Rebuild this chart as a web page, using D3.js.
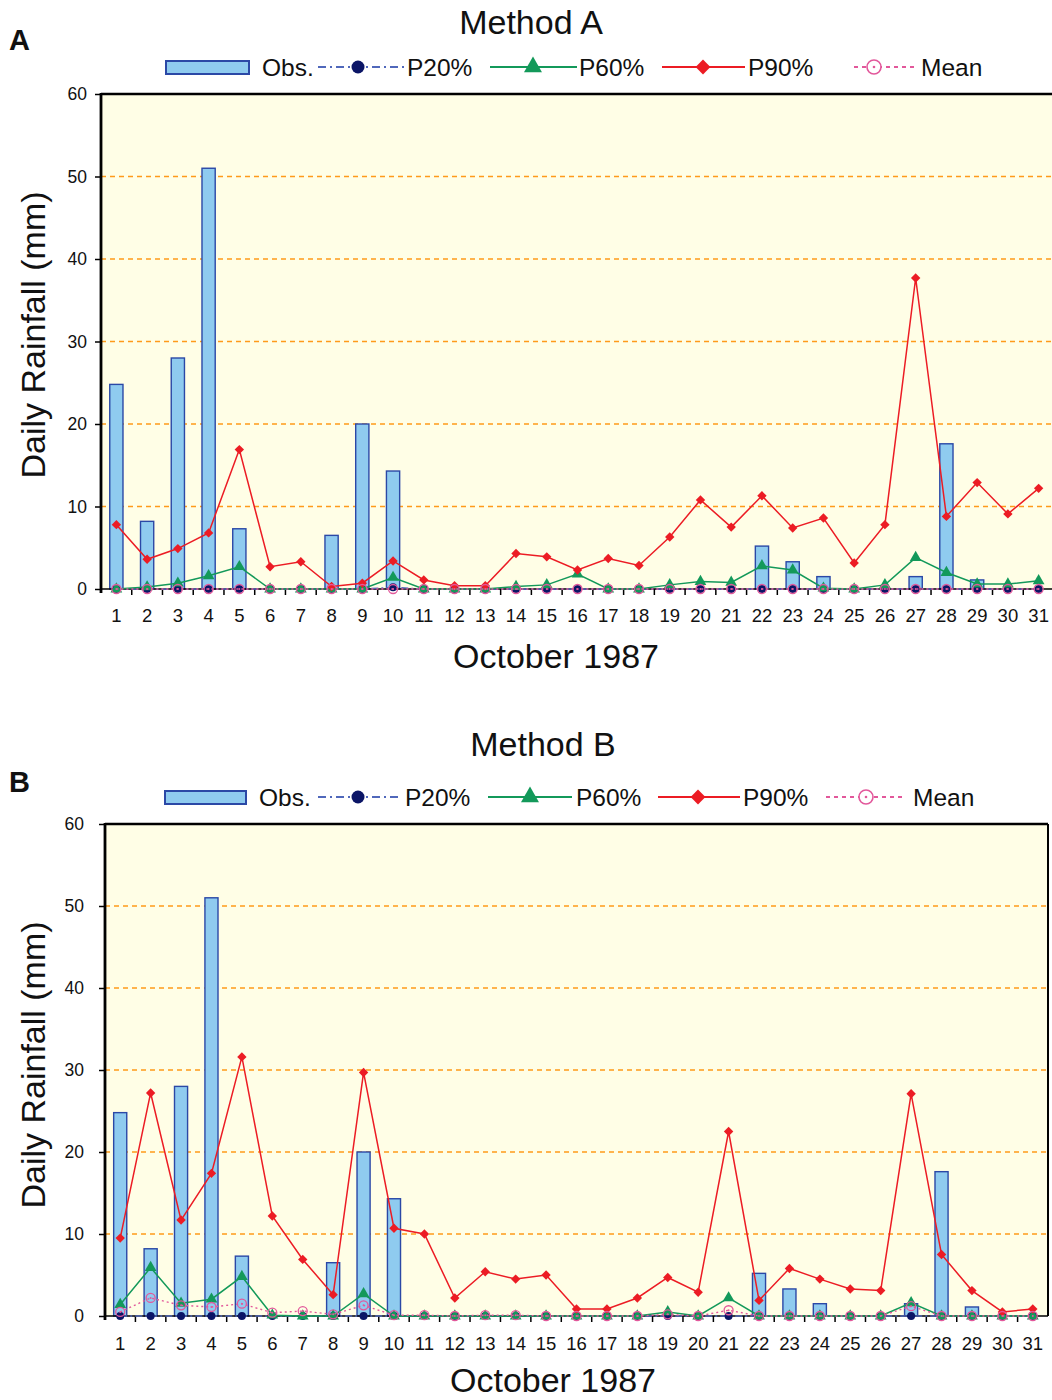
<!DOCTYPE html>
<html>
<head>
<meta charset="utf-8">
<script src="https://cdn.jsdelivr.net/npm/d3@7"></script>
<style>
  html, body { margin: 0; padding: 0; background: #ffffff; }
  svg { display: block; font-family: "Liberation Sans", Arial, sans-serif; }
</style>
</head>
<body>
<svg id="chart" width="1052" height="1400"></svg>
<script>
// ---------------- DATA ----------------
const dayLabels = ["1","2","3","4","5","6","7","8","9","10","11","12","13","14","15","16",
                   "17","18","19","20","21","22","23","24","25","26","27","28","29","30","31"];
const yTicks = [0, 10, 20, 30, 40, 50, 60];
const seriesNames = ["Obs.", "P20%", "P60%", "P90%", "Mean"];

// Observed daily rainfall (same for both methods)
const obs = [24.8, 8.2, 28.0, 51.0, 7.3, 0, 0, 6.5, 20.0, 14.3, 0, 0, 0, 0, 0, 0,
             0, 0, 0, 0, 0, 5.2, 3.3, 1.5, 0, 0, 1.5, 17.6, 1.1, 0, 0];

// Method A
const aP20 = [0, 0, 0, 0, 0, 0, 0, 0, 0, 0.2, 0, 0, 0, 0, 0, 0,
              0, 0, 0, 0, 0, 0, 0, 0, 0, 0, 0, 0, 0, 0, 0];
const aP60 = [0, 0.25, 0.7, 1.6, 2.7, 0, 0, 0, 0, 1.4, 0, 0, 0, 0.3, 0.5, 1.8,
              0, 0, 0.5, 0.9, 0.8, 2.8, 2.3, 0.1, 0, 0.5, 3.8, 2.0, 0.6, 0.6, 1.0];
const aP90 = [7.8, 3.6, 4.9, 6.8, 16.9, 2.7, 3.3, 0.3, 0.7, 3.4, 1.1, 0.4, 0.4, 4.3, 3.9, 2.3,
              3.7, 2.85, 6.3, 10.8, 7.5, 11.3, 7.4, 8.6, 3.15, 7.8, 37.7, 8.8, 12.9, 9.1, 12.2];
const aMean = [0, 0, 0, 0, 0, 0, 0, 0, 0, 0, 0, 0, 0, 0, 0, 0,
               0, 0, 0, 0, 0, 0, 0, 0, 0, 0, 0, 0, 0, 0, 0];

// Method B
const bP20 = [0, 0, 0, 0, 0, 0, 0, 0, 0, 0, 0, 0, 0, 0, 0, 0,
              0, 0, 0, 0, 0, 0, 0, 0, 0, 0, 0, 0, 0, 0, 0];
const bP60 = [1.4, 5.9, 1.55, 2.05, 4.8, 0.1, 0, 0, 2.7, 0, 0, 0, 0, 0, 0, 0,
              0, 0, 0.5, 0, 2.2, 0, 0, 0, 0, 0, 1.6, 0, 0, 0, 0];
const bP90 = [9.5, 27.2, 11.7, 17.4, 31.6, 12.2, 6.9, 2.6, 29.7, 10.7, 10.0, 2.2, 5.4, 4.5, 5.0, 0.85,
              0.85, 2.2, 4.7, 2.9, 22.5, 1.9, 5.8, 4.5, 3.3, 3.1, 27.1, 7.5, 3.1, 0.5, 0.85];
const bMean = [0.5, 2.2, 1.3, 1.1, 1.5, 0.4, 0.6, 0.2, 1.3, 0.1, 0.1, 0, 0.1, 0.1, 0, 0,
               0, 0, 0.2, 0, 0.7, 0, 0, 0, 0, 0, 1.2, 0, 0, 0, 0];

// ---------------- STYLES ----------------
const C = {
  barFill: "#8fcbef", barStroke: "#2b48a6",
  p20Line: "#5068bb", p20Mark: "#0b1566",
  p60: "#13995a", p90: "#ec1c24", mean: "#e2589b",
  bg: "#fffee6", grid: "#ff9a1a"
};

const svg = d3.select("#chart");

const panels = [
  { letter: "A", title: "Method A", p20: aP20, p60: aP60, p90: aP90, mean: aMean,
    left: 101, right: 1054, top: 94, bottom: 589, rightBorder: false,
    titleY: 34, letterY: 50, legendY: 67, yLabX: 87, xLabY: 622, xTitleY: 668, xTitleX: 556, titleX: 531, yTitleX: 45, yTitleY: 335,
    leg: { rect: [166, 249], obsT: 262, p20: [318, 405, 358, 407], p60: [490, 577, 533, 579], p90: [662, 745, 703, 748], mean: [854, 914, 874, 921] } },
  { letter: "B", title: "Method B", p20: bP20, p60: bP60, p90: bP90, mean: bMean,
    left: 105, right: 1048, top: 824, bottom: 1316, rightBorder: true,
    titleY: 756, letterY: 792, legendY: 797, yLabX: 84, xLabY: 1350, xTitleY: 1392, xTitleX: 553, titleX: 543, yTitleX: 45, yTitleY: 1065,
    leg: { rect: [165, 246], obsT: 259, p20: [318, 400, 358, 405], p60: [488, 572, 530, 576], p90: [658, 740, 698, 743], mean: [826, 905, 866, 913] } }
];

const triangle = d3.symbol().type(d3.symbolTriangle).size(60);
const diamond = d3.symbol().type(d3.symbolSquare).size(44);

function drawMarker(g, type, cx, cy) {
  if (type === "p20") {
    g.append("circle").attr("cx", cx).attr("cy", cy).attr("r", 4).attr("fill", C.p20Mark);
  } else if (type === "p60") {
    g.append("path").attr("d", triangle()).attr("transform", `translate(${cx},${cy})`).attr("fill", C.p60);
  } else if (type === "p90") {
    g.append("path").attr("d", diamond()).attr("transform", `translate(${cx},${cy}) rotate(45)`).attr("fill", C.p90);
  } else if (type === "mean") {
    g.append("circle").attr("cx", cx).attr("cy", cy).attr("r", 4.5).attr("fill", "none").attr("stroke", C.mean).attr("stroke-width", 1.3);
    g.append("circle").attr("cx", cx).attr("cy", cy).attr("r", 1).attr("fill", C.mean);
  }
}

const lineStyles = {
  p20: { stroke: C.p20Line, dash: "7,3,2,3", width: 1.4 },
  p60: { stroke: C.p60, dash: null, width: 1.5 },
  p90: { stroke: C.p90, dash: null, width: 1.5 },
  mean: { stroke: C.mean, dash: "2,3", width: 1.4 }
};

panels.forEach(P => {
  const g = svg.append("g");
  const x = d3.scaleBand().domain(dayLabels).range([P.left, P.right]).paddingInner(0).paddingOuter(0);
  const y = d3.scaleLinear().domain([0, 60]).range([P.bottom, P.top]);
  const bw = x.bandwidth();
  const cx = d => x(d) + bw / 2;

  // Titles
  g.append("text").attr("x", P.titleX).attr("y", P.titleY).attr("text-anchor", "middle")
    .attr("font-size", 34).attr("fill", "#111").text(P.title);
  g.append("text").attr("x", 9).attr("y", P.letterY).attr("font-size", 29).attr("font-weight", "bold")
    .attr("fill", "#111").text(P.letter);

  // Plot background
  g.append("rect").attr("x", P.left).attr("y", P.top).attr("width", P.right - P.left).attr("height", P.bottom - P.top)
    .attr("fill", C.bg);

  // Gridlines
  g.selectAll(".grid").data(yTicks.filter(t => t > 0 && t < 60)).enter().append("line")
    .attr("x1", P.left).attr("x2", P.right).attr("y1", d => y(d)).attr("y2", d => y(d))
    .attr("stroke", C.grid).attr("stroke-width", 1.6).attr("stroke-dasharray", "5,4");

  // Bars
  const barW = bw * 0.43;
  g.selectAll(".bar").data(obs.map((v, i) => ({ d: dayLabels[i], v }))).enter()
    .filter(o => o.v > 0).append("rect")
    .attr("x", o => cx(o.d) - barW / 2).attr("y", o => y(o.v))
    .attr("width", barW).attr("height", o => y(0) - y(o.v))
    .attr("fill", C.barFill).attr("stroke", C.barStroke).attr("stroke-width", 1.4);

  // Borders
  g.append("line").attr("x1", P.left).attr("x2", P.right).attr("y1", P.top).attr("y2", P.top)
    .attr("stroke", "#000").attr("stroke-width", 2.5);
  if (P.rightBorder) {
    g.append("line").attr("x1", P.right).attr("x2", P.right).attr("y1", P.top).attr("y2", P.bottom)
      .attr("stroke", "#000").attr("stroke-width", 2);
  }

  // X axis line and between-category ticks
  g.append("line").attr("x1", P.left).attr("x2", P.right).attr("y1", P.bottom).attr("y2", P.bottom)
    .attr("stroke", "#000").attr("stroke-width", 1.6);
  g.selectAll(".xt").data(dayLabels.slice(1)).enter().append("line")
    .attr("x1", d => x(d)).attr("x2", d => x(d)).attr("y1", P.bottom).attr("y2", P.bottom + 6)
    .attr("stroke", "#000").attr("stroke-width", 1.5);

  // X labels via axis
  const xAxis = d3.axisBottom(x).tickSize(0).tickPadding(0);
  const xg = g.append("g").attr("transform", `translate(0,${P.xLabY - 14})`).call(xAxis);
  xg.select(".domain").remove();
  xg.selectAll("text").attr("font-size", 18.5).attr("fill", "#111").attr("dy", 0).attr("y", 14)
    .style("font-family", "'Liberation Sans', Arial, sans-serif");

  // Y axis
  const yAxis = d3.axisLeft(y).tickValues(yTicks).tickSize(6).tickPadding(P.left - P.yLabX - 6);
  const yg = g.append("g").attr("transform", `translate(${P.left},0)`).call(yAxis);
  yg.select(".domain").remove();
  yg.selectAll("line").attr("stroke", "#000").attr("stroke-width", 1.5);
  yg.selectAll("text").attr("font-size", 17.5).attr("fill", "#111")
    .style("font-family", "'Liberation Sans', Arial, sans-serif");
  g.append("line").attr("x1", P.left).attr("x2", P.left).attr("y1", P.top - 1).attr("y2", P.bottom + 4)
    .attr("stroke", "#000").attr("stroke-width", 2.8);

  // Axis titles
  g.append("text").attr("transform", `translate(${P.yTitleX},${P.yTitleY}) rotate(-90)`)
    .attr("text-anchor", "middle").attr("font-size", 34).attr("fill", "#111").text("Daily Rainfall (mm)");
  g.append("text").attr("x", P.xTitleX).attr("y", P.xTitleY).attr("text-anchor", "middle")
    .attr("font-size", 34).attr("fill", "#111").text("October 1987");

  // Lines + markers
  const order = ["p20", "p60", "p90", "mean"];
  order.forEach(k => {
    const vals = P[k];
    const st = lineStyles[k];
    const line = d3.line().x((v, i) => cx(dayLabels[i])).y(v => y(v));
    const path = g.append("path").datum(vals).attr("d", line)
      .attr("fill", "none").attr("stroke", st.stroke).attr("stroke-width", st.width);
    if (st.dash) path.attr("stroke-dasharray", st.dash);
    const mg = g.append("g");
    vals.forEach((v, i) => drawMarker(mg, k, cx(dayLabels[i]), y(v)));
  });

  // Legend
  const L = P.leg, ly = P.legendY;
  const lg = g.append("g");
  lg.append("rect").attr("x", L.rect[0]).attr("y", ly - 6).attr("width", L.rect[1] - L.rect[0]).attr("height", 13)
    .attr("fill", C.barFill).attr("stroke", C.barStroke).attr("stroke-width", 2);
  const legText = (tx, s) => lg.append("text").attr("x", tx).attr("y", ly + 8.5).attr("font-size", 24.5)
    .attr("fill", "#111").text(s);
  legText(L.obsT, seriesNames[0]);
  [["p20", L.p20, seriesNames[1]], ["p60", L.p60, seriesNames[2]], ["p90", L.p90, seriesNames[3]], ["mean", L.mean, seriesNames[4]]]
    .forEach(([k, pos, name]) => {
      const st = lineStyles[k];
      const ln = lg.append("line").attr("x1", pos[0]).attr("x2", pos[1]).attr("y1", ly).attr("y2", ly)
        .attr("stroke", st.stroke).attr("stroke-width", k === "p60" || k === "p90" ? 2.2 : 1.8);
      if (st.dash) ln.attr("stroke-dasharray", k === "p20" ? "8,4,2,4" : "4,4");
      if (k === "p20") lg.append("circle").attr("cx", pos[2]).attr("cy", ly).attr("r", 6.5).attr("fill", C.p20Mark);
      else if (k === "p60") lg.append("path").attr("d", d3.symbol().type(d3.symbolTriangle).size(140)()).attr("transform", `translate(${pos[2]},${ly})`).attr("fill", C.p60);
      else if (k === "p90") lg.append("path").attr("d", d3.symbol().type(d3.symbolSquare).size(110)()).attr("transform", `translate(${pos[2]},${ly}) rotate(45)`).attr("fill", C.p90);
      else {
        lg.append("circle").attr("cx", pos[2]).attr("cy", ly).attr("r", 7).attr("fill", "#fff").attr("stroke", C.mean).attr("stroke-width", 1.6);
        lg.append("circle").attr("cx", pos[2]).attr("cy", ly).attr("r", 1.3).attr("fill", C.mean);
      }
      legText(pos[3], name);
    });
});
</script>
</body>
</html>
